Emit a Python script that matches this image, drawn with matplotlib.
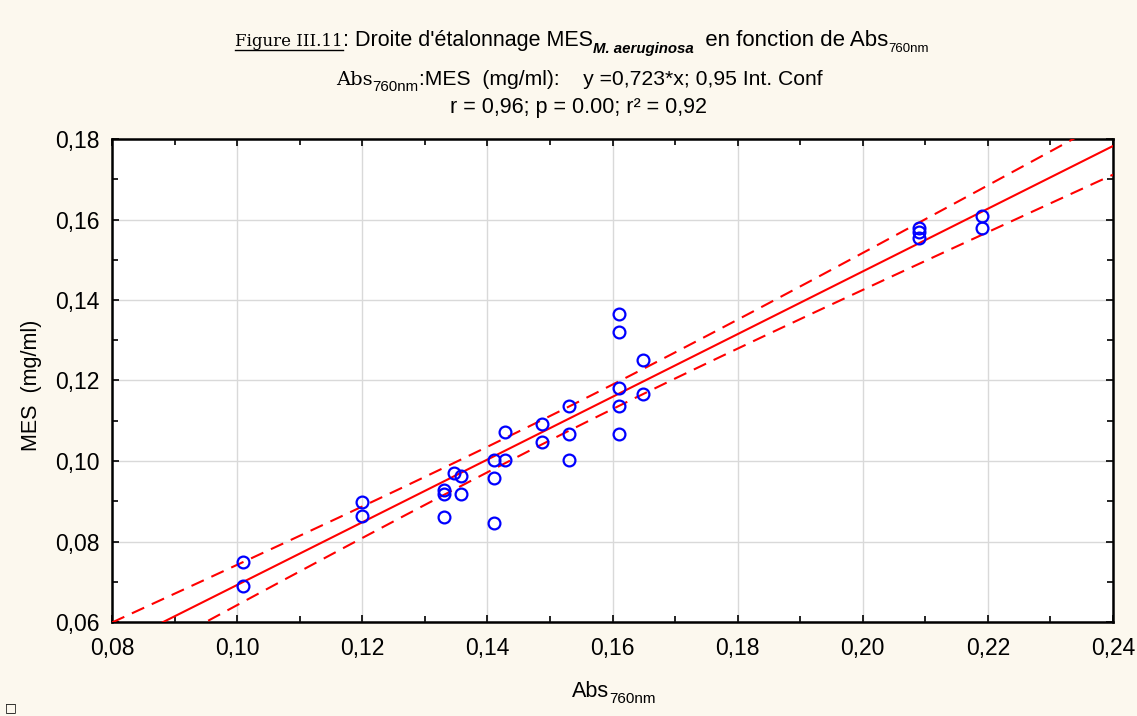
import numpy as np
import matplotlib
matplotlib.use("Agg")
import matplotlib.pyplot as plt
from matplotlib.ticker import MultipleLocator, FuncFormatter
from matplotlib.transforms import IdentityTransform
from matplotlib.lines import Line2D

# Données
abs_760 = [0.101, 0.101, 0.120, 0.120,
           0.133, 0.133, 0.133, 0.1347, 0.1358, 0.1358,
           0.141, 0.141, 0.141, 0.1428, 0.1428,
           0.1488, 0.1488, 0.153, 0.153, 0.153,
           0.161, 0.161, 0.161, 0.161, 0.161,
           0.1648, 0.1648,
           0.209, 0.209, 0.209, 0.219, 0.219]
mes = [0.0750, 0.0689, 0.0898, 0.0863,
       0.0929, 0.0917, 0.0860, 0.0969, 0.0962, 0.0918,
       0.1003, 0.0958, 0.0845, 0.1072, 0.1003,
       0.1092, 0.1047, 0.1137, 0.1067, 0.1003,
       0.1364, 0.1320, 0.1182, 0.1137, 0.1067,
       0.1251, 0.1167,
       0.1580, 0.1568, 0.1555, 0.1608, 0.1580]

# droite de régression et intervalle de confiance tels que tracés
pente = 0.779
ordonnee = -0.0087
ic_centre = 0.0030   # demi-largeur au centre
ic_pente = 0.0747    # croissance de la demi-largeur

BG = "#fcf8ee"
W, H = 1137, 716


def text_row(fig, parts, cx, y):
    # parts: (texte, taille, famille, style, poids, decalage vertical)
    r = fig.canvas.get_renderer()
    items = []
    for s, size, fam, style, weight, dy in parts:
        t = fig.text(0, 0, s, fontsize=size, family=fam, style=style, weight=weight,
                     transform=IdentityTransform(), ha="left", va="baseline")
        w = t.get_window_extent(r).width
        items.append((t, w, dy))
    total = sum(w for _, w, _ in items)
    x = cx - total / 2
    out = []
    for t, w, dy in items:
        t.set_position((x, y + dy))
        out.append((x, w))
        x += w
    return out


x = np.array(abs_760)
y = np.array(mes)
xm = x.mean()
xx = np.linspace(0.08, 0.24, 200)
yy = ordonnee + pente * xx
half = np.sqrt(ic_centre ** 2 + (ic_pente * (xx - xm)) ** 2)

fig = plt.figure(figsize=(W / 100, H / 100), dpi=100, facecolor=BG)
ax = fig.add_axes([112 / W, 1 - 622 / H, (1113 - 112) / W, (622 - 139) / H])
ax.set_facecolor("white")

ax.plot(xx, yy, color="red", lw=1.5, zorder=3)
ax.plot(xx, yy + half, color="red", lw=1.5, ls=(0, (6.5, 4)), zorder=3)
ax.plot(xx, yy - half, color="red", lw=1.5, ls=(0, (6.5, 4)), zorder=3)
ax.plot(x, y, "o", mfc="none", mec="blue", mew=1.6, ms=8.5, zorder=4)

ax.set_xlim(0.08, 0.24)
ax.set_ylim(0.06, 0.18)
ax.xaxis.set_major_locator(MultipleLocator(0.02))
ax.xaxis.set_minor_locator(MultipleLocator(0.01))
ax.yaxis.set_major_locator(MultipleLocator(0.02))
ax.yaxis.set_minor_locator(MultipleLocator(0.01))
fmt = FuncFormatter(lambda v, p: f"{v:.2f}".replace(".", ","))
ax.xaxis.set_major_formatter(fmt)
ax.yaxis.set_major_formatter(fmt)
ax.tick_params(which="both", direction="in", top=True, right=True, width=1.2)
ax.tick_params(which="major", length=5, labelsize=16.5)
ax.tick_params(axis="x", which="major", pad=11)
ax.tick_params(axis="y", which="major", pad=9)
ax.tick_params(which="minor", length=4)
for lab in ax.get_xticklabels() + ax.get_yticklabels():
    lab.set_family("Liberation Sans")
ax.grid(True, which="major", color="#d9d9d9", lw=1)
ax.set_axisbelow(True)
for sp in ax.spines.values():
    sp.set_linewidth(1.8)

# Titres
sans = "Liberation Sans"
serif = "DejaVu Serif"
pos = text_row(fig, [
    ("Figure III.11", 12, serif, "normal", "normal", 0),
    (": Droite d'étalonnage MES", 15.5, sans, "normal", "normal", 0),
    ("M. aeruginosa", 10.8, sans, "italic", "bold", -7),
    ("  en fonction de Abs", 16, sans, "normal", "normal", 0),
    ("760nm", 9.5, sans, "normal", "normal", -6),
], 582, H - 46)
x0, w0 = pos[0]
fig.add_artist(Line2D([x0, x0 + w0], [H - 50, H - 50], color="black", lw=1,
                      transform=IdentityTransform()))

text_row(fig, [
    ("Abs", 14, serif, "normal", "normal", 0),
    ("760nm", 10.8, sans, "normal", "normal", -6),
    (":MES  (mg/ml):    y =0,723*x; 0,95 Int. Conf", 15.2, sans, "normal", "normal", 0),
], 579, H - 85)

text_row(fig, [
    ("r = 0,96; p = 0.00; r² = 0,92", 15.5, sans, "normal", "normal", 0),
], 578, H - 113)

# Libellés des axes
fig.text(32 / W, 1 - 385 / H, "MES  (mg/ml)", rotation=90, fontsize=15.5, family=sans,
         ha="center", va="center")
text_row(fig, [
    ("Abs", 15.5, sans, "normal", "normal", 0),
    ("760nm", 11, sans, "normal", "normal", -6),
], 614, H - 697)

fig.text(5 / W, 2 / H, "□", fontsize=9, family="DejaVu Sans", ha="left", va="bottom")

fig.savefig("out.png", dpi=100, facecolor=BG)
